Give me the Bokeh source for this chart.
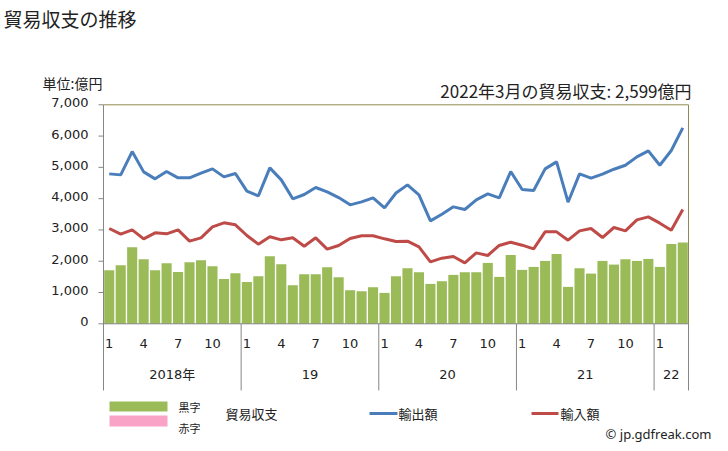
from bokeh.plotting import figure
from bokeh.models import Range1d, ColumnDataSource
from bokeh.core.properties import value
from bokeh.embed import file_html
from bokeh.resources import INLINE

# ---------------- data ----------------
year_labels = ["2018年", "19", "20", "21", "22"]
months_per_year = [12, 12, 12, 12, 3]
month_tick_labels = [1, 4, 7, 10]

exports = [4792, 4760, 5506, 4856, 4633, 4867, 4665, 4665, 4814, 4952, 4696, 4803,
           4239, 4089, 4984, 4601, 3994, 4132, 4356, 4217, 4036, 3802, 3898, 4026,
           3706, 4180, 4441, 4121, 3291, 3504, 3738, 3653, 3962, 4153, 4026, 4867,
           4292, 4260, 4952, 5176, 3887, 4792, 4654, 4782, 4941, 5069, 5335, 5527,
           5069, 5538, 6262]
imports = [3046, 2865, 3003, 2716, 2907, 2875, 3003, 2641, 2748, 3099, 3227, 3163,
           2822, 2545, 2780, 2684, 2748, 2481, 2748, 2386, 2503, 2726, 2812, 2812,
           2716, 2630, 2641, 2460, 1981, 2098, 2151, 1949, 2268, 2183, 2503, 2609,
           2513, 2396, 2939, 2939, 2673, 2971, 3046, 2758, 3078, 2971, 3323, 3419,
           3216, 2993, 3653]
balance = [1712, 1872, 2447, 2063, 1712, 1936, 1659, 1968, 2031, 1840, 1435, 1616,
           1339, 1520, 2159, 1904, 1233, 1584, 1584, 1808, 1488, 1073, 1041, 1169,
           988, 1520, 1776, 1648, 1275, 1361, 1563, 1648, 1648, 1946, 1499, 2202,
           1723, 1818, 2010, 2234, 1180, 1776, 1605, 2010, 1893, 2063, 2010, 2074,
           1818, 2553, 2599]
y_ticks = [0, 1000, 2000, 3000, 4000, 5000, 6000, 7000]
subtitle = "2022年3月の貿易収支: 2,599億円"

# ---------------- layout helpers ----------------
W, H = 720, 443
X0_PX = 103.0                # pixel of x = 0
BAR_PX = 585.0 / 51          # pixels per month
Y0_PX = 323.3                # pixel of y = 0
Y_PX = 219.0 / 7000          # pixels per unit


def dx(fx):
    return (fx - X0_PX) / BAR_PX


def dy(fy):
    return (Y0_PX - fy) / Y_PX


JP = value("Noto Sans CJK JP")
NUM = value("DejaVu Sans, Noto Sans CJK JP")
TXT = "#222222"
GRAY = "#868686"

n = len(exports)
xs = [i + 0.5 for i in range(n)]
month_of = []
for cnt in months_per_year:
    month_of += list(range(1, cnt + 1))

p = figure(width=W, height=H, output_backend="svg", toolbar_location=None,
           x_range=Range1d(dx(0), dx(W)), y_range=Range1d(dy(H), dy(0)),
           x_axis_location=None, y_axis_location=None, title=None,
           min_border=0, outline_line_color=None,
           background_fill_color="white", border_fill_color="white")
p.xgrid.visible = False
p.ygrid.visible = False

# bars
bar_colors = ["#9BBB59" if v >= 0 else "#F9A3C7" for v in balance]
src = ColumnDataSource(dict(x=xs, bal=balance, exp=exports, imp=imports, col=bar_colors))
p.vbar(x="x", top="bal", bottom=0, width=0.88, fill_color="col", line_color=None, source=src)

# lines
p.line(x="x", y="exp", line_color="#4A7EBB", line_width=3, source=src)
p.line(x="x", y="imp", line_color="#BE4B48", line_width=3, source=src)

# y axis (ticks + labels on the data scale)
ymax = max(y_ticks)
p.segment(x0=[dx(98)] * len(y_ticks), y0=y_ticks, x1=[0] * len(y_ticks), y1=y_ticks,
          line_color=GRAY, line_width=1)
p.text(x=[dx(88)] * len(y_ticks), y=y_ticks, text=[f"{v:,}" for v in y_ticks],
       text_font=value("DejaVu Sans"), text_font_size="13px", text_color=TXT,
       text_align="right", text_baseline="middle", y_offset=-2)

# frame lines
y_bottom_sep = dy(390)
p.segment(x0=[0], y0=[y_bottom_sep], x1=[0], y1=[ymax], line_color=GRAY, line_width=1)
p.segment(x0=[0], y0=[ymax], x1=[n], y1=[ymax], line_color="#8F8A4F", line_width=1)
p.segment(x0=[n], y0=[0], x1=[n], y1=[ymax], line_color="#8F8A4F", line_width=1)
p.segment(x0=[0], y0=[0], x1=[n], y1=[0], line_color=GRAY, line_width=1)

bounds = [0]
for cnt in months_per_year:
    bounds.append(bounds[-1] + cnt)
p.segment(x0=bounds[1:], y0=[y_bottom_sep] * (len(bounds) - 1), x1=bounds[1:],
          y1=[0] * (len(bounds) - 1), line_color=GRAY, line_width=1)

# month labels
mx = [xs[i] for i in range(n) if month_of[i] in month_tick_labels]
mt = [str(month_of[i]) for i in range(n) if month_of[i] in month_tick_labels]
p.text(x=mx, y=[dy(343)] * len(mx), text=mt, text_font=NUM, text_font_size="13px",
       text_color=TXT, text_align="center", text_baseline="middle")

# year labels
yx = [(bounds[k] + bounds[k + 1]) / 2 for k in range(len(year_labels))]
p.text(x=yx, y=[dy(374)] * len(yx), text=year_labels, text_font=NUM, text_font_size="13px",
       text_color=TXT, text_align="center", text_baseline="middle")

# titles
p.text(x=[dx(3)], y=[dy(18)], text=["貿易収支の推移"], text_font=JP,
       text_font_size="19px", text_color=TXT, text_baseline="middle")
p.text(x=[dx(42)], y=[dy(82)], text=["単位:億円"], text_font=JP,
       text_font_size="14px", text_color=TXT, text_baseline="middle")
p.text(x=[dx(691)], y=[dy(90)], text=[subtitle], text_font=JP,
       text_font_size="17px", text_color=TXT, text_baseline="middle", text_align="right")

# legend
p.quad(left=[dx(109)], right=[dx(167)], top=[dy(401)], bottom=[dy(411)],
       fill_color="#9BBB59", line_color=None)
p.quad(left=[dx(109)], right=[dx(167)], top=[dy(415)], bottom=[dy(426)],
       fill_color="#F9A3C7", line_color=None)
p.line(x=[dx(369), dx(397)], y=[dy(413), dy(413)], line_color="#4A7EBB", line_width=3)
p.line(x=[dx(531), dx(558)], y=[dy(413), dy(413)], line_color="#BE4B48", line_width=3)
p.text(x=[dx(178), dx(178)], y=[dy(406), dy(427)], text=["黒字", "赤字"], text_font=JP,
       text_font_size="11px", text_color=TXT, text_baseline="middle")
p.text(x=[dx(225), dx(398), dx(560)], y=[dy(413)] * 3, text=["貿易収支", "輸出額", "輸入額"],
       text_font=JP, text_font_size="13px", text_color=TXT, text_baseline="middle")
p.text(x=[dx(711)], y=[dy(433)], text=["© jp.gdfreak.com"], text_font=value("Noto Sans"),
       text_font_size="13px", text_color=TXT, text_baseline="middle", text_align="right")

open("out.html", "w").write(file_html(p, INLINE))
